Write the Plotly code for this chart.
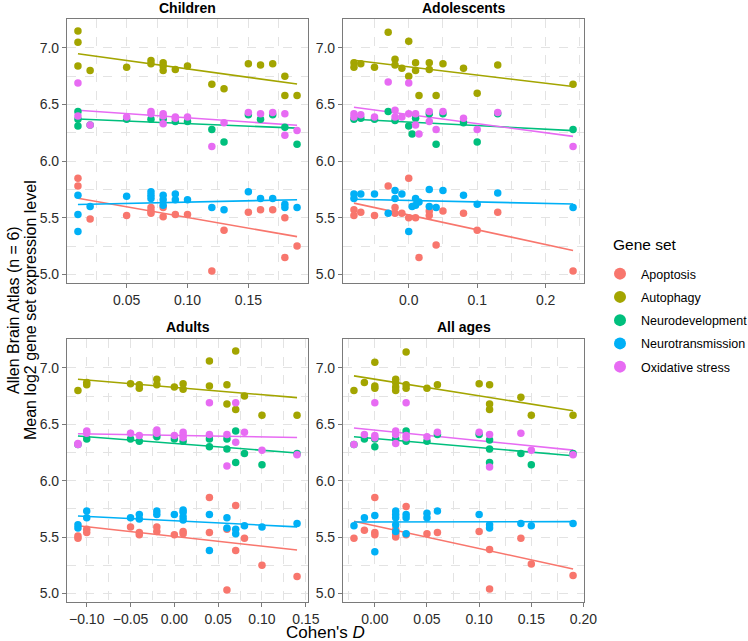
import numpy as np
import plotly.graph_objects as go

GENE_SETS = ["Apoptosis", "Autophagy", "Neurodevelopment", "Neurotransmission", "Oxidative stress"]
COLORS = ["#F8766D", "#A3A500", "#00BF7D", "#00B0F6", "#E76BF3"]
PANELS = ["Children", "Adolescents", "Adults", "All ages"]

# ---------------- Children (Cohen's D, mean log2 expression) ----------------
children_apoptosis = [(0.01, 5.85), (0.01, 5.78), (0.02, 5.49), (0.05, 5.52), (0.07, 5.59), (0.07, 5.56),
                      (0.07, 5.54), (0.08, 5.59), (0.08, 5.51), (0.09, 5.53), (0.10, 5.53), (0.12, 5.03),
                      (0.13, 5.39), (0.15, 5.55), (0.16, 5.57), (0.17, 5.57), (0.18, 5.50), (0.18, 5.15),
                      (0.19, 5.25)]
children_autophagy = [(0.01, 7.15), (0.01, 7.05), (0.01, 6.84), (0.02, 6.80), (0.05, 6.83), (0.07, 6.89),
                      (0.07, 6.86), (0.08, 6.87), (0.08, 6.84), (0.08, 6.80), (0.09, 6.81), (0.10, 6.84),
                      (0.12, 6.68), (0.13, 6.64), (0.15, 6.86), (0.16, 6.85), (0.17, 6.86), (0.18, 6.75),
                      (0.18, 6.58), (0.19, 6.58)]
children_neurodev = [(0.01, 6.44), (0.01, 6.37), (0.01, 6.31), (0.02, 6.32), (0.05, 6.37), (0.07, 6.37),
                     (0.08, 6.37), (0.09, 6.35), (0.10, 6.35), (0.12, 6.28), (0.13, 6.17), (0.15, 6.41),
                     (0.16, 6.37), (0.17, 6.41), (0.18, 6.30), (0.19, 6.15)]
children_neurotrans = [(0.01, 5.70), (0.01, 5.53), (0.01, 5.38), (0.02, 5.60), (0.05, 5.69), (0.07, 5.73),
                       (0.07, 5.70), (0.07, 5.67), (0.08, 5.70), (0.08, 5.66), (0.08, 5.61), (0.09, 5.71),
                       (0.09, 5.66), (0.10, 5.66), (0.12, 5.59), (0.13, 5.57), (0.15, 5.73), (0.16, 5.67),
                       (0.17, 5.67), (0.18, 5.62), (0.18, 5.59), (0.19, 5.59)]
children_oxidative = [(0.01, 6.69), (0.01, 6.40), (0.02, 6.32), (0.05, 6.39), (0.07, 6.44), (0.07, 6.42),
                      (0.08, 6.42), (0.08, 6.40), (0.08, 6.33), (0.09, 6.39), (0.09, 6.38), (0.10, 6.39),
                      (0.12, 6.13), (0.13, 6.34), (0.15, 6.43), (0.16, 6.42), (0.17, 6.43), (0.18, 6.42),
                      (0.18, 6.23), (0.19, 6.27)]

# ---------------- Adolescents ----------------
adolescents_apoptosis = [(-0.08, 5.57), (-0.08, 5.52), (-0.07, 5.55), (-0.05, 5.52), (-0.03, 5.78),
                         (-0.02, 5.59), (-0.02, 5.54), (-0.01, 5.54), (0.00, 5.85), (0.00, 5.50),
                         (0.01, 5.50), (0.015, 5.15), (0.03, 5.56), (0.03, 5.52), (0.04, 5.26),
                         (0.05, 5.56), (0.08, 5.54), (0.10, 5.39), (0.13, 5.55), (0.24, 5.03)]
adolescents_autophagy = [(-0.08, 6.87), (-0.08, 6.83), (-0.07, 6.86), (-0.05, 6.83), (-0.03, 7.14),
                         (-0.02, 6.90), (-0.02, 6.85), (-0.01, 6.82), (0.00, 7.06), (0.00, 6.75),
                         (0.01, 6.87), (0.01, 6.80), (0.015, 6.58), (0.03, 6.87), (0.03, 6.81),
                         (0.04, 6.58), (0.05, 6.86), (0.08, 6.82), (0.10, 6.60), (0.13, 6.85), (0.24, 6.68)]
adolescents_neurodev = [(-0.08, 6.37), (-0.07, 6.38), (-0.05, 6.37), (-0.03, 6.44), (-0.02, 6.36),
                        (0.00, 6.31), (0.005, 6.24), (0.01, 6.38), (0.03, 6.42), (0.04, 6.15),
                        (0.05, 6.42), (0.08, 6.34), (0.10, 6.17), (0.13, 6.42), (0.24, 6.28)]
adolescents_neurotrans = [(-0.08, 5.71), (-0.08, 5.67), (-0.07, 5.71), (-0.05, 5.71), (-0.03, 5.54),
                          (-0.02, 5.74), (-0.02, 5.67), (-0.01, 5.71), (0.00, 5.38), (0.005, 5.60),
                          (0.01, 5.67), (0.01, 5.61), (0.015, 5.64), (0.03, 5.75), (0.03, 5.60),
                          (0.04, 5.59), (0.05, 5.74), (0.08, 5.70), (0.10, 5.62), (0.13, 5.72),
                          (0.24, 5.59)]
adolescents_oxidative = [(-0.08, 6.42), (-0.08, 6.39), (-0.07, 6.41), (-0.05, 6.39), (-0.03, 6.70),
                         (-0.02, 6.45), (-0.02, 6.39), (-0.01, 6.39), (0.00, 6.69), (0.00, 6.42),
                         (0.01, 6.42), (0.01, 6.32), (0.015, 6.24), (0.03, 6.44), (0.03, 6.35),
                         (0.04, 6.28), (0.05, 6.44), (0.08, 6.38), (0.10, 6.28), (0.13, 6.43),
                         (0.24, 6.13)]

# ---------------- Adults ----------------
adults_apoptosis = [(-0.11, 5.51), (-0.11, 5.49), (-0.10, 5.57), (-0.10, 5.54), (-0.05, 5.59), (-0.04, 5.54),
                    (-0.04, 5.52), (-0.02, 5.59), (-0.02, 5.55), (0.00, 5.52), (0.01, 5.55), (0.01, 5.53),
                    (0.04, 5.85), (0.04, 5.54), (0.06, 5.57), (0.06, 5.03), (0.07, 5.78), (0.07, 5.38),
                    (0.08, 5.49), (0.10, 5.25), (0.14, 5.15)]
adults_autophagy = [(-0.11, 6.80), (-0.10, 6.87), (-0.10, 6.85), (-0.05, 6.86), (-0.04, 6.85), (-0.04, 6.82),
                    (-0.02, 6.90), (-0.02, 6.85), (0.00, 6.83), (0.01, 6.86), (0.01, 6.81), (0.04, 7.06),
                    (0.04, 6.84), (0.06, 6.85), (0.06, 6.68), (0.07, 7.15), (0.07, 6.63), (0.08, 6.75),
                    (0.10, 6.58), (0.14, 6.58)]
adults_neurodev = [(-0.11, 6.32), (-0.10, 6.37), (-0.05, 6.37), (-0.04, 6.35), (-0.02, 6.39), (0.00, 6.37),
                   (0.01, 6.35), (0.04, 6.37), (0.04, 6.30), (0.06, 6.37), (0.06, 6.28), (0.07, 6.44),
                   (0.07, 6.16), (0.08, 6.24), (0.10, 6.14), (0.14, 6.24)]
adults_neurotrans = [(-0.11, 5.61), (-0.11, 5.58), (-0.10, 5.73), (-0.10, 5.67), (-0.05, 5.67), (-0.04, 5.70),
                     (-0.04, 5.66), (-0.02, 5.73), (-0.02, 5.70), (0.00, 5.70), (0.01, 5.74), (0.01, 5.72),
                     (0.01, 5.68), (0.01, 5.65), (0.04, 5.70), (0.04, 5.38), (0.06, 5.67), (0.06, 5.58),
                     (0.07, 5.57), (0.07, 5.53), (0.08, 5.60), (0.10, 5.59), (0.14, 5.62)]
adults_oxidative = [(-0.11, 6.33), (-0.11, 6.32), (-0.10, 6.44), (-0.10, 6.42), (-0.05, 6.42), (-0.04, 6.40),
                    (-0.02, 6.45), (-0.02, 6.42), (0.00, 6.40), (0.01, 6.43), (0.01, 6.40), (0.01, 6.38),
                    (0.04, 6.69), (0.04, 6.41), (0.06, 6.41), (0.06, 6.13), (0.07, 6.69), (0.07, 6.34),
                    (0.08, 6.43), (0.10, 6.27), (0.14, 6.23)]

# ---------------- All ages ----------------
allages_apoptosis = [(-0.02, 5.49), (-0.01, 5.56), (0.00, 5.85), (0.00, 5.54), (0.00, 5.52), (0.02, 5.57),
                     (0.02, 5.54), (0.02, 5.52), (0.02, 5.50), (0.03, 5.77), (0.03, 5.52), (0.05, 5.53),
                     (0.06, 5.54), (0.10, 5.55), (0.11, 5.39), (0.11, 5.04), (0.14, 5.49), (0.15, 5.26),
                     (0.19, 5.16)]
allages_autophagy = [(-0.02, 6.80), (-0.01, 6.87), (0.00, 7.05), (0.00, 6.84), (0.00, 6.82), (0.02, 6.90),
                     (0.02, 6.87), (0.02, 6.83), (0.02, 6.80), (0.03, 7.14), (0.03, 6.85), (0.03, 6.82),
                     (0.05, 6.82), (0.06, 6.85), (0.10, 6.86), (0.11, 6.85), (0.11, 6.68), (0.11, 6.63),
                     (0.14, 6.74), (0.15, 6.58), (0.19, 6.58)]
allages_neurodev = [(-0.02, 6.32), (-0.01, 6.37), (0.00, 6.37), (0.00, 6.30), (0.02, 6.37), (0.03, 6.44),
                    (0.03, 6.35), (0.05, 6.35), (0.06, 6.41), (0.10, 6.41), (0.11, 6.36), (0.11, 6.28),
                    (0.11, 6.16), (0.14, 6.24), (0.15, 6.14), (0.19, 6.24)]
allages_neurotrans = [(-0.02, 5.60), (-0.01, 5.67), (0.00, 5.69), (0.00, 5.37), (0.02, 5.73), (0.02, 5.70),
                      (0.02, 5.67), (0.02, 5.61), (0.02, 5.55), (0.03, 5.70), (0.03, 5.67), (0.03, 5.53),
                      (0.05, 5.71), (0.05, 5.67), (0.06, 5.73), (0.10, 5.70), (0.11, 5.61), (0.11, 5.58),
                      (0.14, 5.62), (0.15, 5.60), (0.19, 5.62)]
allages_oxidative = [(-0.02, 6.32), (-0.01, 6.41), (0.00, 6.69), (0.00, 6.40), (0.00, 6.38), (0.02, 6.44),
                     (0.02, 6.41), (0.02, 6.33), (0.03, 6.69), (0.03, 6.40), (0.03, 6.38), (0.05, 6.39),
                     (0.06, 6.43), (0.10, 6.43), (0.11, 6.41), (0.11, 6.12), (0.14, 6.42), (0.15, 6.27),
                     (0.19, 6.23)]

PANEL_DATA = [
    [children_apoptosis, children_autophagy, children_neurodev, children_neurotrans, children_oxidative],
    [adolescents_apoptosis, adolescents_autophagy, adolescents_neurodev, adolescents_neurotrans, adolescents_oxidative],
    [adults_apoptosis, adults_autophagy, adults_neurodev, adults_neurotrans, adults_oxidative],
    [allages_apoptosis, allages_autophagy, allages_neurodev, allages_neurotrans, allages_oxidative],
]
X_DTICK = [0.05, 0.1, 0.05, 0.05]
X_FMT = [".2f", ".1f", ".2f", ".2f"]

W, H = 748, 641
COLS = [(67, 308), (343, 584)]
ROWS = [(19, 283), (339, 602)]


def px(x):
    return x / W


def py(y):
    return 1 - y / H


FONT = "Liberation Sans, Arial, sans-serif"
GRID = "#e3e3e3"
BORDER = "#7a7a7a"

fig = go.Figure()

all_y = [p[1] for panel in PANEL_DATA for s in panel for p in s]
ymin, ymax = min(all_y), max(all_y)
ypad = (ymax - ymin) * 0.05
yrange = [ymin - ypad, ymax + ypad]

layout = {}
for i, panel in enumerate(PANEL_DATA):
    ax = "" if i == 0 else str(i + 1)
    xs_all = [p[0] for s in panel for p in s]
    xmin, xmax = min(xs_all), max(xs_all)
    xpad = (xmax - xmin) * 0.05
    for g, series in enumerate(panel):
        xs = np.array([p[0] for p in series])
        ys = np.array([p[1] for p in series])
        slope, inter = np.polyfit(xs, ys, 1)
        lx = np.array([xs.min(), xs.max()])
        fig.add_trace(go.Scatter(x=lx, y=inter + slope * lx, mode="lines",
                                 line=dict(color=COLORS[g], width=1.6),
                                 xaxis="x" + ax, yaxis="y" + ax, showlegend=False,
                                 hoverinfo="skip"))
    for g, series in enumerate(panel):
        fig.add_trace(go.Scatter(x=[p[0] for p in series], y=[p[1] for p in series], mode="markers",
                                 marker=dict(color=COLORS[g], size=7.5),
                                 name=GENE_SETS[g], legendgroup=GENE_SETS[g],
                                 showlegend=(i == 0),
                                 xaxis="x" + ax, yaxis="y" + ax))
    c, r = i % 2, i // 2
    x0, x1 = COLS[c]
    y0, y1 = ROWS[r]
    d = X_DTICK[i]
    common = dict(showline=True, mirror=True, linecolor=BORDER, linewidth=1.2,
                  ticks="outside", ticklen=4, tickcolor=BORDER, tickwidth=1,
                  showgrid=True, gridcolor=GRID, griddash="dash", gridwidth=1,
                  zeroline=False, automargin=False,
                  tickfont=dict(family=FONT, size=14, color="#2b2b2b"))
    layout["xaxis" + ax] = dict(domain=[px(x0), px(x1)], anchor="y" + ax,
                                range=[xmin - xpad, xmax + xpad], dtick=d, tick0=0,
                                tickformat=X_FMT[i], ticklabelstandoff=0,
                                minor=dict(dtick=d / 2, tick0=0, showgrid=True, gridcolor=GRID,
                                           griddash="dash", ticklen=0),
                                **common)
    layout["yaxis" + ax] = dict(domain=[py(y1), py(y0)], anchor="x" + ax,
                                range=yrange, dtick=0.5, tick0=0, tickformat=".1f",
                                minor=dict(dtick=0.25, tick0=0, showgrid=True, gridcolor=GRID,
                                           griddash="dash", ticklen=0),
                                **common)

annotations = []
for i, name in enumerate(PANELS):
    c, r = i % 2, i // 2
    x0, x1 = COLS[c]
    ty = 8 if r == 0 else 327
    annotations.append(dict(text="<b>" + name + "</b>", x=px((x0 + x1) / 2), y=py(ty),
                            xref="paper", yref="paper", xanchor="center", yanchor="middle",
                            showarrow=False, font=dict(family=FONT, size=14, color="black")))
annotations.append(dict(text="Cohen's <i>D</i>", x=px((COLS[0][0] + COLS[1][1]) / 2), y=py(632),
                        xref="paper", yref="paper", xanchor="center", yanchor="middle",
                        showarrow=False, font=dict(family=FONT, size=17, color="black")))
annotations.append(dict(text="Allen Brain Atlas (n = 6)", x=px(14), y=py(310),
                        xref="paper", yref="paper", textangle=-90,
                        xanchor="center", yanchor="middle", showarrow=False,
                        font=dict(family=FONT, size=16, color="black")))
annotations.append(dict(text="Mean log2 gene set expression level", x=px(31), y=py(310),
                        xref="paper", yref="paper", textangle=-90,
                        xanchor="center", yanchor="middle", showarrow=False,
                        font=dict(family=FONT, size=16, color="black")))
annotations.append(dict(text="Gene set", x=px(611), y=py(245),
                        xref="paper", yref="paper", xanchor="left", yanchor="middle",
                        showarrow=False, font=dict(family=FONT, size=15.5, color="black")))

fig.update_layout(
    width=W, height=H, margin=dict(l=0, r=0, t=0, b=0, autoexpand=False),
    paper_bgcolor="white", plot_bgcolor="white",
    annotations=annotations,
    legend=dict(x=px(599), y=py(259), xanchor="left", yanchor="top",
                font=dict(family=FONT, size=12.5, color="black"), tracegroupgap=4,
                itemwidth=32, itemsizing="constant"),
    **layout,
)

# the page's default 8px body margin would push the figure off its 748x641 frame
fig.write_html("out.html", config={"displayModeBar": False},
               post_script="document.body.style.margin='0px';")
